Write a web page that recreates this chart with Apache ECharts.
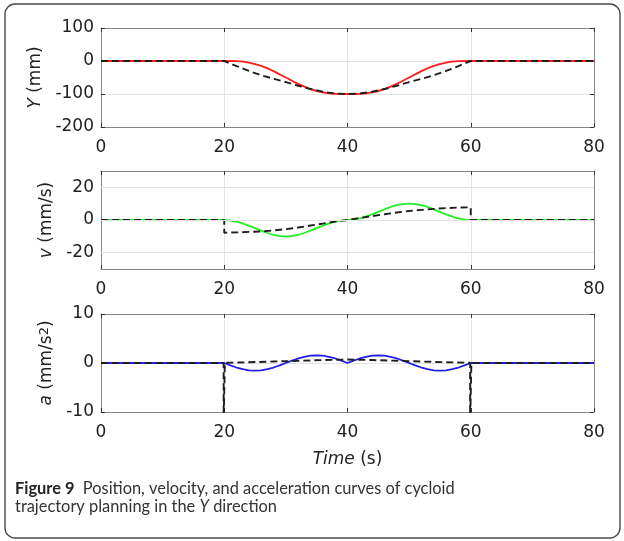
<!DOCTYPE html>
<html><head><meta charset="utf-8">
<script src="https://cdn.jsdelivr.net/npm/echarts@6/dist/echarts.min.js"></script>
<style>html,body{margin:0;padding:0;background:#fff}#c{width:624px;height:541px}</style>
</head><body><div id="c"></div><script>
// ---- data ----
const timeRange = [0, 80];
const timeTicks = [0, 20, 40, 60, 80];
const posTicks = [-200, -100, 0, 100];
const velTicks = [-20, 0, 20];
const accTicks = [-10, 0, 10];

const tPos = [0,20,22,24,26,28,30,32,34,36,38,40,42,44,46,48,50,52,54,56,58,60,80];
const posCycloid = [0,0,-0.6,-4.9,-14.9,-30.6,-50,-69.4,-85.1,-95.1,-99.4,-100,-99.4,-95.1,-85.1,-69.4,-50,-30.6,-14.9,-4.9,-0.6,0,0];
const posPlanned = [0,0,-15.5,-30,-43,-54,-64,-75,-85,-93,-98.5,-100,-98.5,-93,-85,-75,-64,-54,-43,-30,-15.5,0,0];

const tVel = [0,20,22,24,26,28,30,32,34,36,38,40,42,44,46,48,50,52,54,56,58,60,80];
const velCycloid = [0,0,-0.95,-3.45,-6.55,-9.05,-10,-9.05,-6.55,-3.45,-0.95,0,0.95,3.45,6.55,9.05,10,9.05,6.55,3.45,0.95,0,0];
const tVelPlanned = [0,20,20,22,24,26,28,30,32,34,36,38,40,42,44,46,48,50,52,54,56,58,60,60,80];
const velPlanned = [0,0,-7.8,-7.6,-7.3,-7.0,-6.4,-5.6,-4.6,-3.4,-2.2,-1.0,0,1.2,2.4,3.5,4.6,5.5,6.2,6.8,7.3,7.6,7.8,0,0];

const tAcc = [0,20,21,22,23,24,25,26,27,28,29,30,31,32,33,34,35,36,37,38,39,40,41,42,43,44,45,46,47,48,49,50,51,52,53,54,55,56,57,58,59,60,80];
const accCycloid = [0,0,-0.49,-0.92,-1.27,-1.49,-1.57,-1.49,-1.27,-0.92,-0.49,0,0.49,0.92,1.27,1.49,1.57,1.49,1.27,0.92,0.49,0,0.49,0.92,1.27,1.49,1.57,1.49,1.27,0.92,0.49,0,-0.49,-0.92,-1.27,-1.49,-1.57,-1.49,-1.27,-0.92,-0.49,0,0];
const tAccPlanned = [0,19.9,19.9,20.1,20.1,24,28,32,36,40,44,48,52,56,59.9,59.9,60.1,60.1,80];
const accPlanned = [0,0,-12,-12,0.05,0.15,0.3,0.45,0.6,0.7,0.6,0.45,0.3,0.15,0.05,-12,-12,0,0];

// ---- chart ----
const pairs = (xs, ys) => xs.map((x, i) => [x, ys[i]]);
const FONT = 'DejaVu Sans';
const FS = 17;
const TXT = '#222';
const BOX = '#858585';
const GRIDC = '#e4e4e4';
const grids = [
  {left: 101, top: 28, width: 493, height: 99},
  {left: 101, top: 171, width: 493, height: 98},
  {left: 101, top: 314, width: 493, height: 98}
];
const yRanges = [[-200, 100, 100, posTicks], [-30, 30, 10, velTicks], [-10, 10, 10, accTicks]];
const yNames = ['{i|Y} (mm)', '{i|v} (mm/s)', '{i|a} (mm/s{s|2})'];
const yNameGaps = [46, 45, 45];
const nameStyle = {fontFamily: FONT, fontSize: FS, color: TXT,
  rich: {i: {fontStyle: 'italic', fontFamily: FONT, fontSize: FS, color: TXT},
         s: {fontFamily: FONT, fontSize: 13, color: TXT, verticalAlign: 'top', lineHeight: 13}}};

const xAxis = [], yAxis = [];
for (let g = 0; g < 3; g++) {
  xAxis.push({
    type: 'value', gridIndex: g, position: 'bottom', min: timeRange[0], max: timeRange[1], interval: 20,
    axisLine: {show: true, onZero: false, lineStyle: {color: BOX, width: 1}},
    axisTick: {show: true, inside: true, length: 4, lineStyle: {color: '#333'}},
    axisLabel: {show: true, margin: 12, fontFamily: FONT, fontSize: FS, color: TXT, customValues: timeTicks},
    splitLine: {show: true, lineStyle: {color: GRIDC, width: 1}},
    name: g === 2 ? '{i|Time} (s)' : '', nameLocation: 'middle', nameGap: 39,
    nameTextStyle: nameStyle
  });
}
for (let g = 0; g < 3; g++) {
  xAxis.push({
    type: 'value', gridIndex: g, position: 'top', min: timeRange[0], max: timeRange[1], interval: 20,
    axisLine: {show: true, onZero: false, lineStyle: {color: BOX, width: 1}},
    axisTick: {show: true, inside: true, length: 4, lineStyle: {color: '#333'}},
    axisLabel: {show: false}, splitLine: {show: false}
  });
}
for (let g = 0; g < 3; g++) {
  const [mn, mx, iv, tk] = yRanges[g];
  yAxis.push({
    type: 'value', gridIndex: g, position: 'left', min: mn, max: mx, interval: iv,
    axisLine: {show: true, onZero: false, lineStyle: {color: BOX, width: 1}},
    axisTick: {show: true, inside: true, length: 4, lineStyle: {color: '#333'}, customValues: tk},
    axisLabel: {show: true, margin: 7, fontFamily: FONT, fontSize: FS, color: TXT, customValues: tk},
    splitLine: {show: g !== 1, lineStyle: {color: GRIDC, width: 1}},
    name: yNames[g], nameLocation: 'middle', nameGap: yNameGaps[g], nameRotate: 90,
    nameTextStyle: nameStyle
  });
}
for (let g = 0; g < 3; g++) {
  const [mn, mx, iv, tk] = yRanges[g];
  yAxis.push({
    type: 'value', gridIndex: g, position: 'right', min: mn, max: mx, interval: iv,
    axisLine: {show: true, onZero: false, lineStyle: {color: BOX, width: 1}},
    axisTick: {show: true, inside: true, length: 4, lineStyle: {color: '#333'}, customValues: tk},
    axisLabel: {show: false}, splitLine: {show: false}
  });
}

const dashStyle = {color: '#1e1e1e', width: 1.9, type: [7, 4]};
const base = {type: 'line', showSymbol: false, symbol: 'none', clip: true, silent: true, animation: false};

const option = {
  animation: false,
  grid: grids,
  xAxis, yAxis,
  series: [
    Object.assign({}, base, {xAxisIndex: 1, yAxisIndex: 1, data: [], z: 0,
      markLine: {silent: true, symbol: 'none', label: {show: false}, animation: false,
        lineStyle: {color: GRIDC, type: 'solid', width: 1},
        data: velTicks.map(v => ({yAxis: v}))}}),
    Object.assign({}, base, {xAxisIndex: 0, yAxisIndex: 0, data: pairs(tPos, posCycloid), smooth: 0.3,
      lineStyle: {color: '#ff1a1a', width: 1.8}}),
    Object.assign({}, base, {xAxisIndex: 0, yAxisIndex: 0, data: pairs(tPos, posPlanned),
      lineStyle: dashStyle}),
    Object.assign({}, base, {xAxisIndex: 1, yAxisIndex: 1, data: pairs(tVel, velCycloid), smooth: 0.3,
      lineStyle: {color: '#22ee22', width: 1.8}}),
    Object.assign({}, base, {xAxisIndex: 1, yAxisIndex: 1, data: pairs(tVelPlanned, velPlanned),
      lineStyle: dashStyle}),
    Object.assign({}, base, {xAxisIndex: 2, yAxisIndex: 2, data: pairs(tAcc, accCycloid),
      lineStyle: {color: '#1f1fe6', width: 1.8}}),
    Object.assign({}, base, {xAxisIndex: 2, yAxisIndex: 2, data: pairs(tAccPlanned, accPlanned),
      lineStyle: dashStyle})
  ],
  graphic: [
    {type: 'rect', shape: {x: 5, y: 4, width: 615, height: 534, r: 10}, silent: true,
      style: {fill: 'none', stroke: '#4a4a4a', lineWidth: 1.4}},
    {type: 'text', left: 15, top: 480, silent: true,
      style: {
        text: '{b|Figure 9}  Position, velocity, and acceleration curves of cycloid\ntrajectory planning in the {i|Y} direction',
        fontFamily: 'Lato', fontSize: 16.4, fill: '#333', lineHeight: 18,
        rich: {
          b: {fontFamily: 'Lato', fontSize: 16.4, fontWeight: 'bold', fill: '#222', lineHeight: 18},
          i: {fontFamily: 'Lato', fontSize: 16.4, fontStyle: 'italic', fill: '#333', lineHeight: 18}
        }
      }}
  ]
};
const chart = echarts.init(document.getElementById('c'), null, {renderer: 'canvas'});
chart.setOption(option);
</script></body></html>
